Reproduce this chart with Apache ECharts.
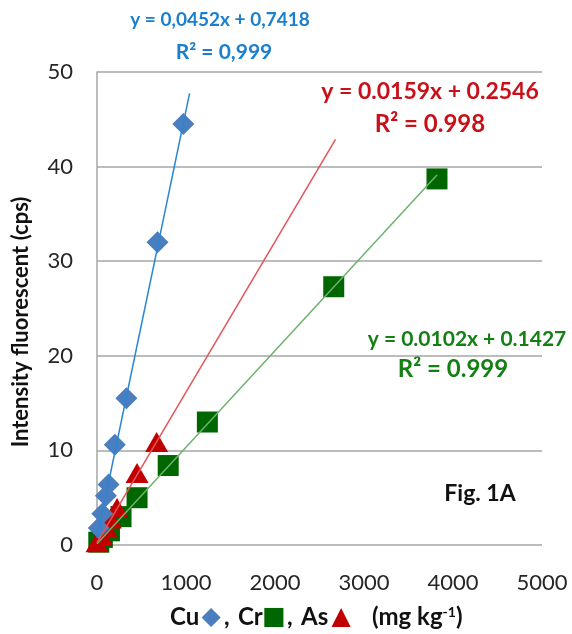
<!DOCTYPE html>
<html>
<head>
<meta charset="utf-8">
<script src="https://cdn.jsdelivr.net/npm/echarts@6/dist/echarts.min.js"></script>
<style>
  html, body { margin: 0; padding: 0; background: #fff; }
  #chart { width: 572px; height: 634px; }
</style>
</head>
<body>
<div id="chart"></div>
<script>
// values
const cuX = [20, 60, 100, 130, 200, 330, 680, 970];
const cuY = [1.8, 3.3, 5.2, 6.4, 10.6, 15.5, 32.0, 44.5];
const crX = [20, 60, 140, 270, 450, 800, 1240, 2660, 3820];
const crY = [0.3, 0.8, 1.5, 3.0, 5.0, 8.4, 13.0, 27.3, 38.7];
const asX = [0, 50, 100, 150, 225, 450, 670];
const asY = [0.3, 1.0, 1.9, 2.8, 3.9, 7.6, 10.9];

// linear fits shown on the figure: [slope, intercept], and x range of the drawn trendline
const cuFit = [0.0452, 0.7418];
const crFit = [0.0102, 0.1427];
const asFit = [0.0159, 0.2546];
const cuRange = [0, 1040];
const crRange = [0, 3820];
const asRange = [0, 2680];

const xTicks = [0, 1000, 2000, 3000, 4000, 5000];
const yTicks = [0, 10, 20, 30, 40, 50];

const pairs = (xs, ys) => xs.map((x, i) => [x, ys[i]]);
const trend = (fit, range) => range.map((x) => [x, fit[0] * x + fit[1]]);

const FONT = "Lato, 'Open Sans', sans-serif";
const COLORS = {
  cu: "#4a7ebf", cuLine: "#2a86d4", cuText: "#1a7fce",
  cr: "#006600", crLine: "#6db36d", crText: "#138013",
  as: "#c00000", asLine: "#e2555a", asText: "#c8101a",
};

const chart = echarts.init(document.getElementById("chart"), null, { renderer: "canvas" });

const label = (txt, cx, cy, size, color, align) => ({
  type: "text",
  x: cx,
  y: cy,
  style: {
    text: txt, fill: color, font: "bold " + size + "px " + FONT,
    textAlign: align || "center", textVerticalAlign: "middle",
  },
});

const glyph = (ch, cx, cy, color) => ({
  type: "text",
  x: cx,
  y: cy,
  style: {
    text: ch, fill: color, font: "25px 'DejaVu Sans'",
    textAlign: "center", textVerticalAlign: "middle",
  },
});

const titleY = 617;

chart.setOption({
  animation: false,
  grid: { left: 97, top: 72, right: 30, bottom: 89, outerBoundsMode: "none" },
  xAxis: {
    type: "value",
    min: xTicks[0],
    max: xTicks[xTicks.length - 1],
    interval: 1000,
    axisLine: { show: false },
    axisTick: { show: false },
    splitLine: { show: false },
    axisLabel: {
      fontSize: 22, fontFamily: FONT, color: "#262626", margin: 27,
      formatter: (v) => String(v),
    },
  },
  yAxis: {
    type: "value",
    min: yTicks[0],
    max: yTicks[yTicks.length - 1],
    interval: 10,
    axisLine: { show: true, lineStyle: { color: "#a6a6a6", width: 1.5 } },
    axisTick: { show: false },
    splitLine: { show: true, lineStyle: { color: "#a6a6a6", width: 1.5 } },
    axisLabel: { fontSize: 22, fontFamily: FONT, color: "#262626", margin: 24 },
  },
  series: [
    {
      type: "scatter", data: pairs(crX, crY), symbol: "rect", symbolSize: [21, 21],
      itemStyle: { color: COLORS.cr, opacity: 1 }, z: 2,
    },
    {
      type: "scatter", data: pairs(asX, asY), symbol: "triangle", symbolSize: [23, 20],
      itemStyle: { color: COLORS.as, opacity: 1 }, z: 3,
    },
    {
      type: "scatter", data: pairs(cuX, cuY), symbol: "diamond", symbolSize: [22, 22],
      itemStyle: { color: COLORS.cu, opacity: 1 }, z: 4,
    },
    {
      type: "line", data: trend(crFit, crRange), showSymbol: false, silent: true,
      lineStyle: { color: COLORS.crLine, width: 1.5 }, z: 5,
    },
    {
      type: "line", data: trend(asFit, asRange), showSymbol: false, silent: true,
      lineStyle: { color: COLORS.asLine, width: 1.5 }, z: 5,
    },
    {
      type: "line", data: trend(cuFit, cuRange), showSymbol: false, silent: true,
      lineStyle: { color: COLORS.cuLine, width: 1.5 }, z: 5,
    },
  ],
  graphic: [
    label("y = 0,0452x + 0,7418", 220, 20, 19, COLORS.cuText),
    label("R² = 0,999", 224, 52, 21, COLORS.cuText),
    label("y = 0.0159x + 0.2546", 430, 92, 23, COLORS.asText),
    label("R² = 0.998", 430, 124, 24, COLORS.asText),
    label("y = 0.0102x + 0.1427", 467, 339, 21, COLORS.crText),
    label("R² = 0.999", 453, 369, 24, COLORS.crText),
    label("Fig. 1A", 480, 494, 23, "#111"),
    // y axis title
    {
      type: "text", x: 21, y: 322, rotation: Math.PI / 2,
      style: {
        text: "Intensity fluorescent (cps)", fill: "#111", font: "bold 22px " + FONT,
        textAlign: "center", textVerticalAlign: "middle",
      },
    },
    // x axis title, piece by piece
    label("Cu", 170, titleY, 24, "#111", "left"),
    glyph("◆", 211, titleY, COLORS.cu),
    label(",", 224, titleY, 24, "#111", "left"),
    label("Cr", 238, titleY, 24, "#111", "left"),
    glyph("■", 274, titleY, COLORS.cr),
    label(",", 287, titleY, 24, "#111", "left"),
    label("As", 301, titleY, 24, "#111", "left"),
    glyph("▲", 341, titleY, COLORS.as),
    {
      type: "text", x: 372, y: titleY,
      style: {
        text: "{b|(mg kg}{sup|-1}{b|)}",
        textAlign: "left", textVerticalAlign: "middle",
        rich: {
          b: { fontSize: 24, fontWeight: "bold", fontFamily: FONT, fill: "#111" },
          sup: { fontSize: 14, fontWeight: "bold", fontFamily: FONT, fill: "#111", verticalAlign: "top", padding: [0, 0, 10, 0] },
        },
      },
    },
  ],
});
</script>
</body>
</html>
